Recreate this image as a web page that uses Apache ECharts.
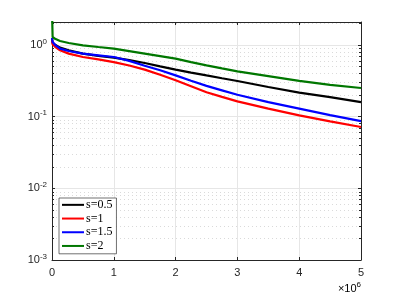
<!DOCTYPE html>
<html><head><meta charset="utf-8">
<script src="https://cdn.jsdelivr.net/npm/echarts@6/dist/echarts.min.js"></script>
<style>html,body{margin:0;padding:0;background:#fff}#c{width:399px;height:299px}</style>
</head><body><div id="c"></div>
<script>
// x positions (iterations)
const xValues = [0, 10000, 50000, 130000, 270000, 500000, 750000, 1000000, 1250000, 1500000, 1750000, 2000000, 2250000, 2500000, 2750000, 3000000, 3500000, 4000000, 4500000, 5000000];
// series values (log y)
const sHalf    = [1.2, 1.060, 1.0, 0.914, 0.838, 0.754, 0.702, 0.663, 0.612, 0.557, 0.501, 0.451, 0.410, 0.374, 0.342, 0.313, 0.258, 0.215, 0.187, 0.159];
const sOne     = [1.2, 1.016, 0.938, 0.838, 0.754, 0.676, 0.628, 0.575, 0.514, 0.451, 0.382, 0.320, 0.264, 0.218, 0.188, 0.163, 0.129, 0.1039, 0.0857, 0.0714];
const sOneHalf = [1.25, 1.094, 1.0, 0.885, 0.820, 0.754, 0.714, 0.676, 0.598, 0.510, 0.441, 0.375, 0.315, 0.268, 0.232, 0.201, 0.159, 0.129, 0.1046, 0.0865];
const sTwo     = [3.0, 1.285, 1.212, 1.130, 1.060, 0.984, 0.932, 0.885, 0.817, 0.754, 0.696, 0.642, 0.574, 0.518, 0.470, 0.427, 0.367, 0.315, 0.277, 0.250];
const seriesNames = ['s=0.5', 's=1', 's=1.5', 's=2'];
const seriesColors = ['#000000', '#ff0000', '#0000ff', '#007700'];
const xTicks = [0, 1, 2, 3, 4, 5];
const yMin = 0.001, yMax = 2.08;
const minorVals = [];
[0.001, 0.01, 0.1, 1].forEach(d => { for (let k = 2; k <= 9; k++) { const v = d * k; if (v < yMax) minorVals.push(v); } });

const AX = '#262626';
const FONT = 'Liberation Sans, Arial, sans-serif';
const pair = arr => xValues.map((x, i) => [x, arr[i]]);
const supRich = { b: { fontSize: 11, fontFamily: FONT, color: AX }, s: { fontSize: 8, fontFamily: FONT, color: AX, padding: [0, 0, 7, 0] } };

const chart = echarts.init(document.getElementById('c'), null, { renderer: 'canvas' });
const dataSets = [sHalf, sOne, sOneHalf, sTwo];
const series = dataSets.map((d, i) => ({
  name: seriesNames[i], type: 'line', data: pair(d), showSymbol: false, symbol: 'none',
  lineStyle: { color: seriesColors[i], width: 2.2 }, itemStyle: { color: seriesColors[i] },
  clip: true, z: 3, xAxisIndex: 0, yAxisIndex: 0, animation: false
}));
series.push({
  type: 'custom', silent: true, z: 1, animation: false, xAxisIndex: 0, yAxisIndex: 0,
  data: minorVals.map(v => [0, v]),
  renderItem: (params, api) => {
    const cs = params.coordSys;
    const p = api.coord([0, api.value(1)]);
    const y = Math.round(p[1]) + 0.5;
    return { type: 'group', children: [
      { type: 'line', shape: { x1: cs.x, y1: y, x2: cs.x + cs.width, y2: y }, style: { stroke: '#dadada', lineWidth: 1, lineDash: [1, 3] } },
      { type: 'line', shape: { x1: cs.x, y1: y, x2: cs.x + 2, y2: y }, style: { stroke: AX, lineWidth: 1 } },
      { type: 'line', shape: { x1: cs.x + cs.width - 2, y1: y, x2: cs.x + cs.width, y2: y }, style: { stroke: AX, lineWidth: 1 } }
    ]};
  }
});

const yFmt = v => { const e = Math.log10(v); const r = Math.round(e); if (Math.abs(e - r) > 1e-6) return ''; return '{b|10}{s|' + r + '}'; };

chart.setOption({
  animation: false,
  backgroundColor: '#fff',
  grid: { left: 52, right: 38, top: 22, bottom: 39, containLabel: false },
  xAxis: [
    { type: 'value', min: 0, max: 5000000, interval: 1000000,
      axisLine: { show: true, lineStyle: { color: AX, width: 1 } },
      axisTick: { show: true, inside: true, length: 3, lineStyle: { color: AX } },
      axisLabel: { color: AX, fontSize: 11, fontFamily: FONT, margin: 7, formatter: v => String(xTicks[Math.round(v / 1000000)]) },
      splitLine: { show: true, lineStyle: { color: '#e6e6e6', width: 1 } } },
    { type: 'value', position: 'top', min: 0, max: 5000000, interval: 1000000,
      axisLine: { show: true, onZero: false, lineStyle: { color: AX, width: 1 } },
      axisTick: { show: true, inside: true, length: 3, lineStyle: { color: AX } },
      axisLabel: { show: false }, splitLine: { show: false } }
  ],
  yAxis: [
    { type: 'log', logBase: 10, min: yMin, max: yMax,
      axisLine: { show: true, lineStyle: { color: AX, width: 1 } },
      axisTick: { show: true, inside: true, length: 3, lineStyle: { color: AX } },
      axisLabel: { color: AX, fontSize: 11, fontFamily: FONT, margin: 5, formatter: yFmt, rich: supRich },
      splitLine: { show: true, lineStyle: { color: '#e6e6e6', width: 1 } } },
    { type: 'log', logBase: 10, position: 'right', min: yMin, max: yMax,
      axisLine: { show: true, onZero: false, lineStyle: { color: AX, width: 1 } },
      axisTick: { show: true, inside: true, length: 3, lineStyle: { color: AX } },
      axisLabel: { show: false }, splitLine: { show: false } }
  ],
  legend: {
    data: seriesNames, orient: 'vertical', left: 59, top: 198,
    icon: 'rect', itemWidth: 22, itemHeight: 2, itemGap: 0,
    padding: [0, 4, 1, 3],
    borderColor: '#333', borderWidth: 0.7, backgroundColor: '#fff',
    textStyle: { fontFamily: 'Liberation Serif, serif', fontSize: 12, lineHeight: 13.7, color: '#000', padding: [0, 0, 0, -3] },
    selectedMode: false
  },
  graphic: [
    { type: 'text', right: 38, top: 281, style: { text: '{b|\u00d710}{s|6}', rich: supRich } }
  ],
  series: series
});
</script></body></html>
